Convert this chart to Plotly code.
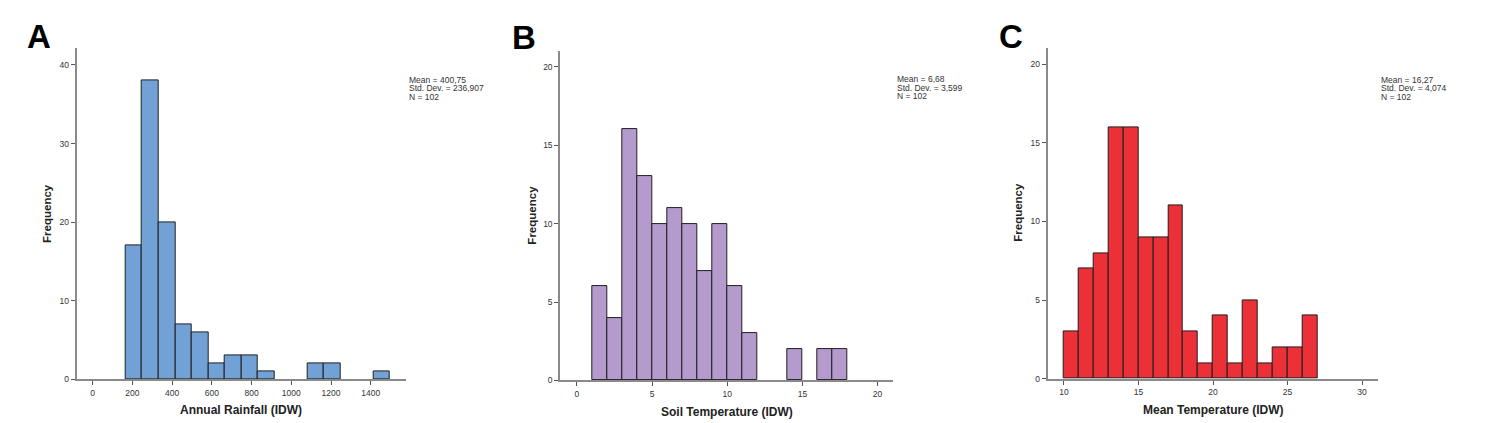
import plotly.graph_objects as go

# ---------------- data ----------------
# Panel A: Annual Rainfall (IDW)
rain_bin_start = 166.0
rain_bin_width = 83.2
rain_counts = [17, 38, 20, 7, 6, 2, 3, 3, 1, 0, 0, 2, 2, 0, 0, 1]
rain_xticks = [0, 200, 400, 600, 800, 1000, 1200, 1400]
rain_yticks = [0, 10, 20, 30, 40]

# Panel B: Soil Temperature (IDW)
soil_bin_start = 1.0
soil_bin_width = 1.0
soil_counts = [6, 4, 16, 13, 10, 11, 10, 7, 10, 6, 3, 0, 0, 2, 0, 2, 2]
soil_xticks = [0, 5, 10, 15, 20]
soil_yticks = [0, 5, 10, 15, 20]

# Panel C: Mean Temperature (IDW)
mt_bin_start = 10.0
mt_bin_width = 1.0
mt_counts = [3, 7, 8, 16, 16, 9, 9, 11, 3, 1, 4, 1, 5, 1, 2, 2, 4]
mt_xticks = [10, 15, 20, 25, 30]
mt_yticks = [0, 5, 10, 15, 20]

panel_letters = ["A", "B", "C"]
x_titles = ["Annual Rainfall (IDW)", "Soil Temperature (IDW)", "Mean Temperature (IDW)"]
stats = [
    ["Mean = 400,75", "Std. Dev. = 236,907", "N = 102"],
    ["Mean = 6,68", "Std. Dev. = 3,599", "N = 102"],
    ["Mean = 16,27", "Std. Dev. = 4,074", "N = 102"],
]
colors = ["#72a2d5", "#b59ace", "#ec3038"]

# ---------------- layout geometry (pixels) ----------------
W, H = 1492, 423
FONT = "Liberation Sans, Arial, sans-serif"

panels = [
    dict(start=rain_bin_start, width=rain_bin_width, counts=rain_counts,
         xticks=rain_xticks, yticks=rain_yticks,
         xdom=(76.7, 406.0), ydom=(49.0, 384.0), xr=(-80.6, 1577.6), yr=(0, 42.1),
         letter=(25, 36.5), stats=(407, [81.0, 89.5, 98.0]),
         ytitle=(47.7, 215.8), xtitle=(241.3, 415.0)),
    dict(start=soil_bin_start, width=soil_bin_width, counts=soil_counts,
         xticks=soil_xticks, yticks=soil_yticks,
         xdom=(560.3, 893.3), ydom=(51.7, 385.0), xr=(-1.11, 21.05), yr=(0, 21.0),
         letter=(510, 37.5), stats=(895, [80.0, 88.8, 97.3]),
         ytitle=(531.7, 217.5), xtitle=(727.0, 417.0)),
    dict(start=mt_bin_start, width=mt_bin_width, counts=mt_counts,
         xticks=mt_xticks, yticks=mt_yticks,
         xdom=(1047.7, 1377.7), ydom=(49.0, 383.3), xr=(8.91, 31.05), yr=(0, 21.0),
         letter=(997, 36.5), stats=(1379, [80.7, 89.3, 97.7]),
         ytitle=(1018.3, 215.0), xtitle=(1213.0, 414.7)),
]

fig = go.Figure()
annotations = []

for i, p in enumerate(panels):
    n = i + 1
    xa = "x" if n == 1 else f"x{n}"
    ya = "y" if n == 1 else f"y{n}"
    centers = [p["start"] + (k + 0.5) * p["width"] for k in range(len(p["counts"]))]
    line_widths = [1 if c > 0 else 0 for c in p["counts"]]
    fig.add_trace(go.Bar(
        x=centers, y=p["counts"], width=[p["width"]] * len(p["counts"]),
        marker=dict(color=colors[i], line=dict(color="#1e1e1e", width=line_widths)),
        xaxis=xa, yaxis=ya, showlegend=False, hoverinfo="x+y",
    ))
    axis_common = dict(showline=True, linecolor="#8a8a8a", linewidth=2,
                       ticks="outside", ticklen=4, tickwidth=1, tickcolor="#555555",
                       tickfont=dict(family=FONT, size=8.5, color="#333333"),
                       showgrid=False, zeroline=False, fixedrange=True)
    xkey = "xaxis" if n == 1 else f"xaxis{n}"
    ykey = "yaxis" if n == 1 else f"yaxis{n}"
    fig.update_layout({
        xkey: dict(domain=[p["xdom"][0] / W, p["xdom"][1] / W], range=list(p["xr"]),
                   tickvals=p["xticks"], anchor=ya, **axis_common),
        ykey: dict(domain=[1 - p["ydom"][1] / H, 1 - p["ydom"][0] / H], range=list(p["yr"]),
                   tickvals=p["yticks"], anchor=xa, **axis_common),
    })
    # panel letter
    lx, ly = p["letter"]
    annotations.append(dict(text=f"<b>{panel_letters[i]}</b>", x=lx / W, y=1 - ly / H,
                            xref="paper", yref="paper", xanchor="left", yanchor="middle",
                            showarrow=False, font=dict(family=FONT, size=33, color="#000000")))
    # stats lines
    sx, sys_ = p["stats"]
    for line, sy in zip(stats[i], sys_):
        annotations.append(dict(text=line, x=sx / W, y=1 - sy / H, xref="paper", yref="paper",
                                xanchor="left", yanchor="middle", showarrow=False,
                                font=dict(family=FONT, size=8.5, color="#333333")))
    # axis titles
    tx, ty = p["ytitle"]
    annotations.append(dict(text="<b>Frequency</b>", x=tx / W, y=1 - ty / H, xref="paper",
                            yref="paper", xanchor="center", yanchor="middle", textangle=-90,
                            showarrow=False, font=dict(family=FONT, size=11.5, color="#222222")))
    tx, ty = p["xtitle"]
    annotations.append(dict(text=f"<b>{x_titles[i]}</b>", x=tx / W, y=1 - ty / H, xref="paper",
                            yref="paper", xanchor="center", yanchor="middle",
                            showarrow=False, font=dict(family=FONT, size=12, color="#222222")))

fig.update_layout(
    width=W, height=H, margin=dict(l=0, r=0, t=0, b=0),
    paper_bgcolor="white", plot_bgcolor="white",
    bargap=0, annotations=annotations, showlegend=False,
)

fig.write_html("out.html", config={"displayModeBar": False})
